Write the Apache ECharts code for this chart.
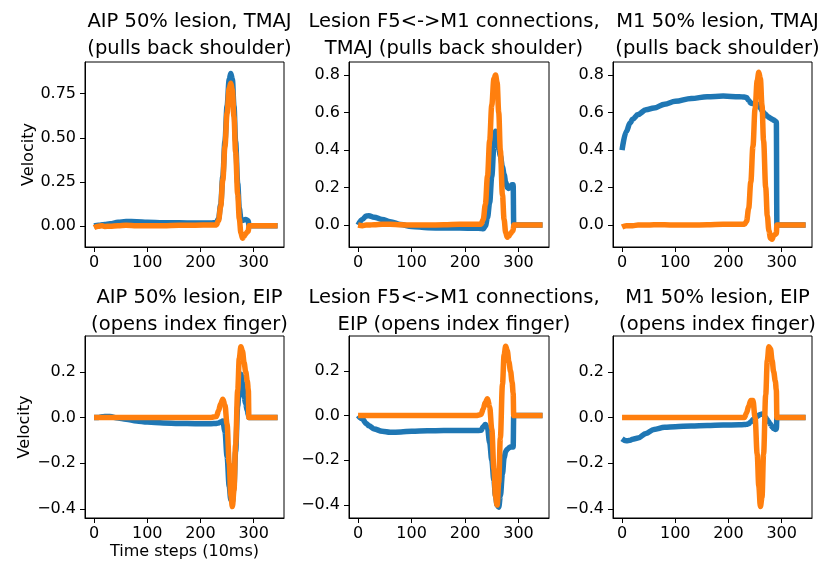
<!DOCTYPE html>
<html>
<head>
<meta charset="utf-8">
<script src="https://cdn.jsdelivr.net/npm/echarts@6/dist/echarts.min.js"></script>
<style>
  html, body { margin: 0; padding: 0; background: #fff; }
  #chart { width: 830px; height: 581px; }
</style>
</head>
<body>
<div id="chart"></div>
<script>
// time steps shared by every trace (denser round the movement)
var steps = [0, 8, 15, 20, 30, 45, 60, 80, 100, 130, 160, 190, 220,
  230, 234, 238, 242, 246, 250, 254, 257, 260, 263, 266, 270, 273, 276, 279, 282, 285, 288, 290, 291,
  300, 320, 345];

// top row: TMAJ
var aipTmajBlue = [0, 0.003, 0.006, 0.008, 0.012, 0.02, 0.025, 0.024, 0.021, 0.018, 0.017, 0.016, 0.016,
  0.02, 0.04, 0.12, 0.28, 0.48, 0.68, 0.83, 0.865, 0.83, 0.68, 0.48, 0.24, 0.1, 0.04, 0.03, 0.034, 0.036, 0.032, 0.028, 0,
  0, 0, 0];
var aipTmajOrange = [-0.01, -0.002, 0, -0.003, -0.002, 0, 0.003, 0.001, 0, 0, 0.003, 0.004, 0.005,
  0.005, 0.03, 0.11, 0.26, 0.45, 0.64, 0.78, 0.81, 0.77, 0.62, 0.42, 0.18, 0.04, -0.04, -0.07, -0.06, -0.045, -0.035, -0.03, 0,
  0, 0, 0];
var f5m1TmajBlue = [0, 0.03, 0.048, 0.05, 0.042, 0.03, 0.018, 0.003, -0.008, -0.014, -0.016, -0.016, -0.017,
  -0.018, -0.02, -0.005, 0.04, 0.12, 0.26, 0.42, 0.5, 0.46, 0.41, 0.37, 0.31, 0.27, 0.23, 0.2, 0.195, 0.21, 0.215, 0.215, 0,
  0, 0, 0];
var f5m1TmajOrange = [0, -0.003, 0, 0, 0.002, 0.004, 0.004, 0.002, 0, 0, 0.002, 0.004, 0.004,
  0.005, 0.03, 0.11, 0.26, 0.45, 0.64, 0.78, 0.8, 0.76, 0.6, 0.4, 0.16, 0.03, -0.04, -0.065, -0.06, -0.045, -0.035, -0.03, 0,
  0, 0, 0];
var m1TmajBlue = [0.4, 0.5, 0.545, 0.565, 0.59, 0.615, 0.625, 0.645, 0.66, 0.675, 0.685, 0.688, 0.685,
  0.683, 0.68, 0.665, 0.65, 0.648, 0.648, 0.645, 0.64, 0.625, 0.61, 0.6, 0.59, 0.58, 0.575, 0.57, 0.565, 0.56, 0.555, 0.55, 0,
  0, 0, 0];
var m1TmajOrange = [-0.01, -0.003, -0.004, -0.003, 0, 0, 0.002, 0.002, 0, 0, 0.002, 0.004, 0.004,
  0.004, 0.02, 0.09, 0.23, 0.42, 0.62, 0.77, 0.815, 0.78, 0.64, 0.45, 0.2, 0.05, -0.03, -0.07, -0.075, -0.055, -0.05, -0.045, 0,
  0, 0, 0];

// bottom row: EIP
var aipEipBlue = [0, 0, 0.003, 0.004, 0.004, -0.002, -0.008, -0.015, -0.02, -0.024, -0.026, -0.027, -0.027,
  -0.026, -0.024, -0.02, -0.015, -0.06, -0.17, -0.3, -0.36, -0.37, -0.3, -0.15, 0.05, 0.16, 0.19, 0.15, 0.09, 0.06, 0.03, 0.01, 0,
  0, 0, 0];
var aipEipOrange = [0, 0, 0, 0, 0, 0, 0, 0, 0, 0, 0, 0, 0,
  0.005, 0.03, 0.06, 0.08, 0.055, -0.03, -0.2, -0.34, -0.39, -0.32, -0.12, 0.12, 0.26, 0.31, 0.29, 0.24, 0.2, 0.16, 0.12, 0,
  0, 0, 0];
var f5m1EipBlue = [0, -0.015, -0.035, -0.045, -0.06, -0.07, -0.075, -0.073, -0.07, -0.068, -0.067, -0.067, -0.067,
  -0.066, -0.05, -0.04, -0.055, -0.12, -0.2, -0.29, -0.36, -0.4, -0.41, -0.36, -0.26, -0.19, -0.16, -0.15, -0.145, -0.14, -0.14, -0.14, 0,
  0, 0, 0];
var f5m1EipOrange = [0, 0, 0, 0, 0, 0, 0, 0, 0, 0, 0, 0, 0,
  0.005, 0.03, 0.06, 0.075, 0.04, -0.06, -0.24, -0.36, -0.4, -0.3, -0.1, 0.14, 0.27, 0.31, 0.29, 0.24, 0.2, 0.15, 0.1, 0,
  0, 0, 0];
var m1EipBlue = [-0.093, -0.102, -0.1, -0.095, -0.09, -0.07, -0.052, -0.043, -0.04, -0.037, -0.035, -0.033, -0.032,
  -0.031, -0.03, -0.027, -0.02, -0.01, 0, 0.005, 0.01, 0.013, 0.015, 0.012, 0, -0.01, -0.02, -0.03, -0.04, -0.048, -0.052, -0.05, 0,
  0, 0, 0];
var m1EipOrange = [0, 0, 0, 0, 0, 0, 0, 0, 0, 0, 0, 0, 0,
  0, 0.02, 0.05, 0.075, 0.075, 0, -0.16, -0.3, -0.39, -0.35, -0.16, 0.1, 0.25, 0.31, 0.3, 0.25, 0.2, 0.16, 0.12, 0,
  0, 0, 0];

var titles = [
  "AIP 50% lesion, TMAJ\n(pulls back shoulder)",
  "Lesion F5<->M1 connections,\nTMAJ (pulls back shoulder)",
  "M1 50% lesion, TMAJ\n(pulls back shoulder)",
  "AIP 50% lesion, EIP\n(opens index finger)",
  "Lesion F5<->M1 connections,\nEIP (opens index finger)",
  "M1 50% lesion, EIP\n(opens index finger)"
];
var xTicks = [0, 100, 200, 300];
var yTicksTop1 = [0, 0.25, 0.5, 0.75];
var yTicksTop = [0, 0.2, 0.4, 0.6, 0.8];
var yTicksBottom = [-0.4, -0.2, 0, 0.2];

var traces = [
  [aipTmajBlue, aipTmajOrange], [f5m1TmajBlue, f5m1TmajOrange], [m1TmajBlue, m1TmajOrange],
  [aipEipBlue, aipEipOrange], [f5m1EipBlue, f5m1EipOrange], [m1EipBlue, m1EipOrange]
];

var font = "DejaVu Sans";
var lefts = [85, 349, 613];
var widths = [199, 200, 199];
var tops = [62, 336];
var heights = [185, 182];
var yRanges = [[-0.12, 0.93], [-0.117, 0.87], [-0.117, 0.87], [-0.44, 0.357], [-0.458, 0.356], [-0.44, 0.357]];
var yTicks = [yTicksTop1, yTicksTop, yTicksTop, yTicksBottom, yTicksBottom, yTicksBottom];

function fmt(v, d) {
  var s = Math.abs(v).toFixed(d);
  return v < -1e-9 ? "\u2212" + s : s;
}

var grid = [], xAxis = [], yAxis = [], series = [], title = [];
for (var i = 0; i < 6; i++) {
  var col = i % 3, row = Math.floor(i / 3);
  grid.push({
    left: lefts[col], top: tops[row], width: widths[col], height: heights[row],
    show: true, borderColor: "#000", borderWidth: 1, backgroundColor: "transparent"
  });
  title.push({
    text: titles[i],
    left: lefts[col] + widths[col] / 2,
    top: row === 0 ? 3 : 279,
    textAlign: "center",
    textStyle: { fontFamily: font, fontSize: 19.5, fontWeight: "normal", color: "#000", lineHeight: 27 }
  });
  xAxis.push({
    type: "value", gridIndex: i, min: -17, max: 357,
    splitLine: { show: false },
    axisLine: { show: true, onZero: false, lineStyle: { color: "#000", width: 1 } },
    axisTick: { show: true, length: 5, customValues: xTicks, lineStyle: { color: "#000" } },
    axisLabel: { customValues: xTicks, color: "#000", fontFamily: font, fontSize: 16, margin: 8 },
    name: i === 3 ? "Time steps (10ms)" : "",
    nameLocation: "middle", nameGap: 26,
    nameTextStyle: { fontFamily: font, fontSize: 16, color: "#000" }
  });
  var dec = i === 0 ? 2 : 1;
  yAxis.push({
    type: "value", gridIndex: i, min: yRanges[i][0], max: yRanges[i][1],
    splitLine: { show: false },
    axisLine: { show: true, onZero: false, lineStyle: { color: "#000", width: 1 } },
    axisTick: { show: true, length: 5, customValues: yTicks[i], lineStyle: { color: "#000" } },
    axisLabel: {
      customValues: yTicks[i], color: "#000", fontFamily: font, fontSize: 16, margin: 9,
      formatter: (function (d) { return function (v) { return fmt(v, d); }; })(dec)
    },
    name: col === 0 ? "Velocity" : "",
    nameLocation: "middle", nameGap: 47, nameRotate: 90,
    nameTextStyle: { fontFamily: font, fontSize: 16, color: "#000" }
  });
  var colors = ["#1f77b4", "#ff7f0e"];
  for (var k = 0; k < 2; k++) {
    var vals = traces[i][k];
    series.push({
      type: "line", xAxisIndex: i, yAxisIndex: i,
      data: steps.map(function (t, j) { return [t, vals[j]]; }),
      showSymbol: false, smooth: 0.35, smoothMonotone: "x",
      lineStyle: { color: colors[k], width: 5.5 },
      itemStyle: { color: colors[k] },
      z: 2 + k, animation: false
    });
  }
}

var chart = echarts.init(document.getElementById("chart"));
chart.setOption({
  animation: false,
  backgroundColor: "#fff",
  title: title,
  grid: grid,
  xAxis: xAxis,
  yAxis: yAxis,
  series: series
});
</script>
</body>
</html>
